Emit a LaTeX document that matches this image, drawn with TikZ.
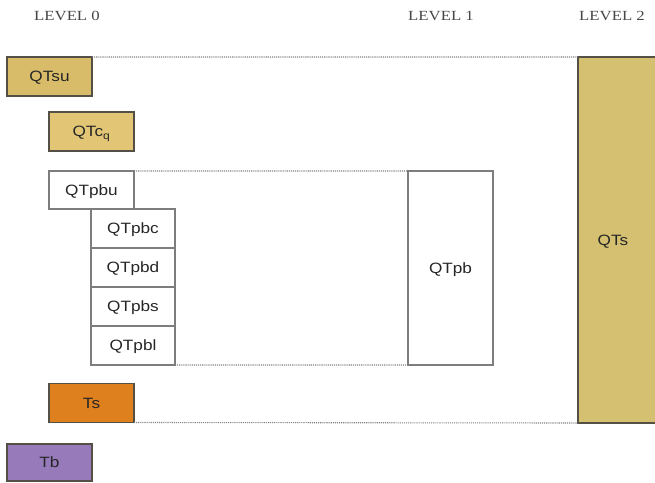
\documentclass[tikz,border=0pt]{standalone}
\usepackage{fontspec}
\setmainfont{Liberation Serif}
\setsansfont{Liberation Sans}
\usepackage{graphicx}
\definecolor{goldA}{RGB}{216,188,106}
\definecolor{goldB}{RGB}{226,198,118}
\definecolor{goldC}{RGB}{212,192,112}
\definecolor{tsorange}{RGB}{222,128,30}
\definecolor{tbpurple}{RGB}{150,122,186}
\definecolor{edgedark}{RGB}{85,80,70}
\definecolor{edgegray}{RGB}{125,125,125}
\definecolor{lvlgray}{RGB}{70,70,70}
\newcommand{\wtext}[1]{\scalebox{1.15}[1]{#1}}
\tikzset{
  box/.style={draw=edgedark, line width=1.2pt, inner sep=0pt, outer sep=0pt,
    minimum width=85bp, minimum height=39bp,
    text height=10.7bp, text depth=0pt,
    font=\sffamily\fontsize{15}{17}\selectfont, text=black!85},
  whitebox/.style={box, draw=edgegray, fill=white},
  level/.style={font=\rmfamily\fontsize{14}{16}\selectfont, text=lvlgray},
  guide/.style={draw=black!50, densely dotted, line width=1.1pt}
}
\begin{document}
\begin{tikzpicture}[x=1bp,y=-1bp]
\useasboundingbox (0,0) rectangle (655,483);
\clip (0,0) rectangle (655,483);

% level headings
\node[level] (l0) at (67,16) {\scalebox{1.2}[1]{LEVEL 0}};
\node[level] (l1) at (441,16) {\scalebox{1.2}[1]{LEVEL 1}};
\node[level] (l2) at (612,16) {\scalebox{1.2}[1]{LEVEL 2}};

% level 0 blocks
\node[box, fill=goldA] (qtsu) at (49.5,76.5) {\wtext{QTsu}};
\node[box, fill=goldB] (qtcq) at (91.5,131.5) {\wtext{QTc\textsubscript{q}}};
\node[whitebox, minimum height=38bp] (qtpbu) at (91.5,190) {\wtext{QTpbu}};
\node[whitebox, minimum width=84bp, minimum height=39bp] (qtpbc) at (133,228.5) {\wtext{QTpbc}};
\node[whitebox, minimum width=84bp, minimum height=39bp, anchor=north] (qtpbd) at (qtpbc.south) {\wtext{QTpbd}};
\node[whitebox, minimum width=84bp, minimum height=39bp, anchor=north] (qtpbs) at (qtpbd.south) {\wtext{QTpbs}};
\node[whitebox, minimum width=84bp, minimum height=39bp, anchor=north] (qtpbl) at (qtpbs.south) {\wtext{QTpbl}};
\node[box, fill=tsorange] (ts) at (91.5,403) {\wtext{Ts}};
\node[box, fill=tbpurple, minimum height=37bp] (tb) at (49.5,462.5) {\wtext{Tb}};

% level 1 block
\node[whitebox, minimum height=194bp] (qtpb) at (450.5,268) {\wtext{QTpb}};

% level 2 block, running off the right edge
\node[box, fill=goldC, minimum width=80bp, minimum height=366bp] (qts) at (618,240) {};
\node[box, draw=none, fill=none, minimum width=0pt, minimum height=0pt] (qtslabel) at (613,240) {\wtext{QTs}};

% dotted guides between levels
\draw[guide] (qtsu.north east) -- (qts.north west);
\draw[guide] (qtpbu.north east) -- (qtpb.north west);
\draw[guide] (qtpbl.south east) -- (qtpb.south west);
\draw[guide] (ts.south east) -- (qts.south west);
\end{tikzpicture}
\end{document}
